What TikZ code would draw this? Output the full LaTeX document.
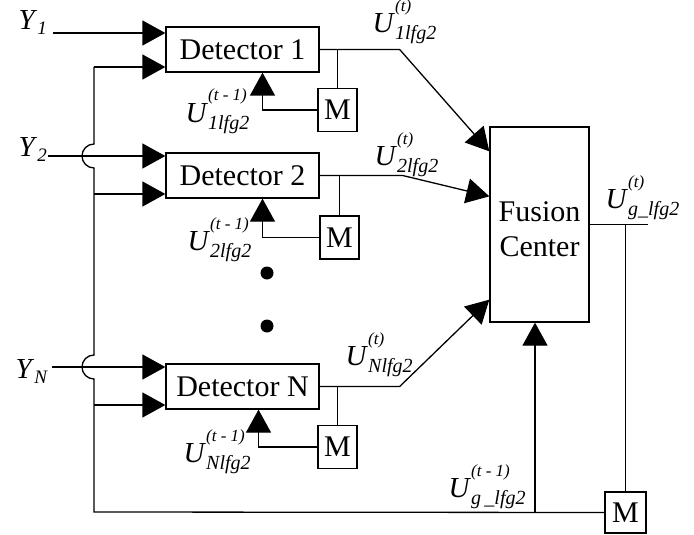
\documentclass[tikz,border=0pt]{standalone}
\usepackage{fontspec}
\setmainfont{Liberation Serif}
\usetikzlibrary{arrows.meta}
\newcommand{\ysig}[1]{\textit{Y}\raisebox{-5pt}{\fontsize{19}{19}\selectfont\textit{#1}}}
\newcommand{\usig}[2]{\textit{U}\rlap{\raisebox{21pt}{\fontsize{17}{17}\selectfont\textit{#1}}}\raisebox{-7pt}{\fontsize{20}{20}\selectfont\textit{#2}}}
\tikzset{
  blk/.style={draw, line width=1.3pt, inner sep=0pt, font=\fontsize{30}{35}\selectfont},
  detbox/.style={blk, minimum width=153pt, minimum height=45pt},
  mbox/.style={blk, minimum width=39pt, minimum height=43pt},
  arr/.style={-{Triangle[length=23pt,width=25pt]}},
  sig/.style={anchor=base west, inner sep=0pt, font=\fontsize{29}{29}\selectfont}
}
\begin{document}
\begin{tikzpicture}[x=1pt, y=-1pt, line width=1.3pt]
\useasboundingbox (0,0) rectangle (694,535);
% blocks
\node[detbox] (det1) at (242.5,49.5) {Detector 1};
\node[detbox] (det2) at (242.5,175.5) {Detector 2};
\node[detbox] (detN) at (242.5,386.5) {Detector N};
\node[mbox] (m1) at (337.5,110) {M};
\node[mbox] (m2) at (339.5,237.5) {M};
\node[mbox] (mN) at (337.5,447) {M};
\node[blk, minimum width=99pt, minimum height=195pt] (fusion) at (539.5,224.5) {};
\node[align=center, font=\fontsize{30}{35}\selectfont] (fusiontxt) at (539.5,229.5) {Fusion\\Center};
\node[mbox, minimum width=41pt, minimum height=41pt] (mg) at (625.5,512.5) {M};
\fill (267,273) circle (6.5pt);
\fill (267,326) circle (6.5pt);
% inputs and the common bus
\coordinate (y1) at (53,33);
\coordinate (y2) at (48,156);
\coordinate (yN) at (52,367);
\coordinate (bustop) at (94,67);
\coordinate (b2) at (94,194);
\coordinate (bN) at (94,405);
\coordinate (busbot) at (94,512);
\coordinate (gfb) at (535,512);
\draw[arr] (y1) -- (y1 -| det1.west);
\draw[arr] (y2) -- (y2 -| det2.west);
\draw[arr] (yN) -- (yN -| detN.west);
\draw[arr] (bustop) -- (bustop -| det1.west);
\draw[arr] (b2) -- (b2 -| det2.west);
\draw[arr] (bN) -- (bN -| detN.west);
\draw (bustop) -- (94,144) arc[start angle=90, end angle=270, radius=12pt]
  -- (94,355) arc[start angle=90, end angle=270, radius=12pt] -- (busbot) -- (mg.west);
% detector outputs
\draw[arr] (det1.east) -- ++(80,0) -- ([yshift=-25pt]fusion.north west);
\draw[arr] (det2.east) -- ++(83,0) -- ([yshift=-70pt]fusion.north west);
\draw[arr] (detN.east) -- ++(80,0) -- ([yshift=23pt]fusion.south west);
% memory loops
\draw (m1.north) -- (m1.north |- det1.east);
\draw (m2.north) -- (m2.north |- det2.east);
\draw (mN.north) -- (mN.north |- detN.east);
\draw[arr] (m1.west) -| ([xshift=20pt]det1.south);
\draw[arr] (m2.west) -| ([xshift=20pt]det2.south);
\draw[arr] (mN.west) -| ([xshift=16pt]detN.south);
\draw (fusion.east) -- ++(58,0);
\draw (mg.north) -- (mg.north |- fusion.east);
\draw[arr] (gfb) -- (gfb |- fusion.south);
% labels
\node[sig] (ly1) at (18,30) {\ysig{1}};
\node[sig] (ly2) at (18,157) {\ysig{2}};
\node[sig] (lyN) at (15,378) {\ysig{N}};
\node[sig] (lu1) at (372,33) {\usig{(t)}{1lfg2}};
\node[sig] (lu2) at (374,165) {\usig{(t)}{2lfg2}};
\node[sig] (luN) at (345,365) {\usig{(t)}{Nlfg2}};
\node[sig] (lp1) at (185,122) {\usig{(t - 1)}{1lfg2}};
\node[sig] (lp2) at (187,250) {\usig{(t - 1)}{2lfg2}};
\node[sig] (lpN) at (183,462) {\usig{(t - 1)}{Nlfg2}};
\node[sig] (lug) at (605,208) {\usig{(t)}{g\_lfg2}};
\node[sig] (lpg) at (448,497) {\usig{(t - 1)}{g\,\_lfg2}};
\end{tikzpicture}
\end{document}
